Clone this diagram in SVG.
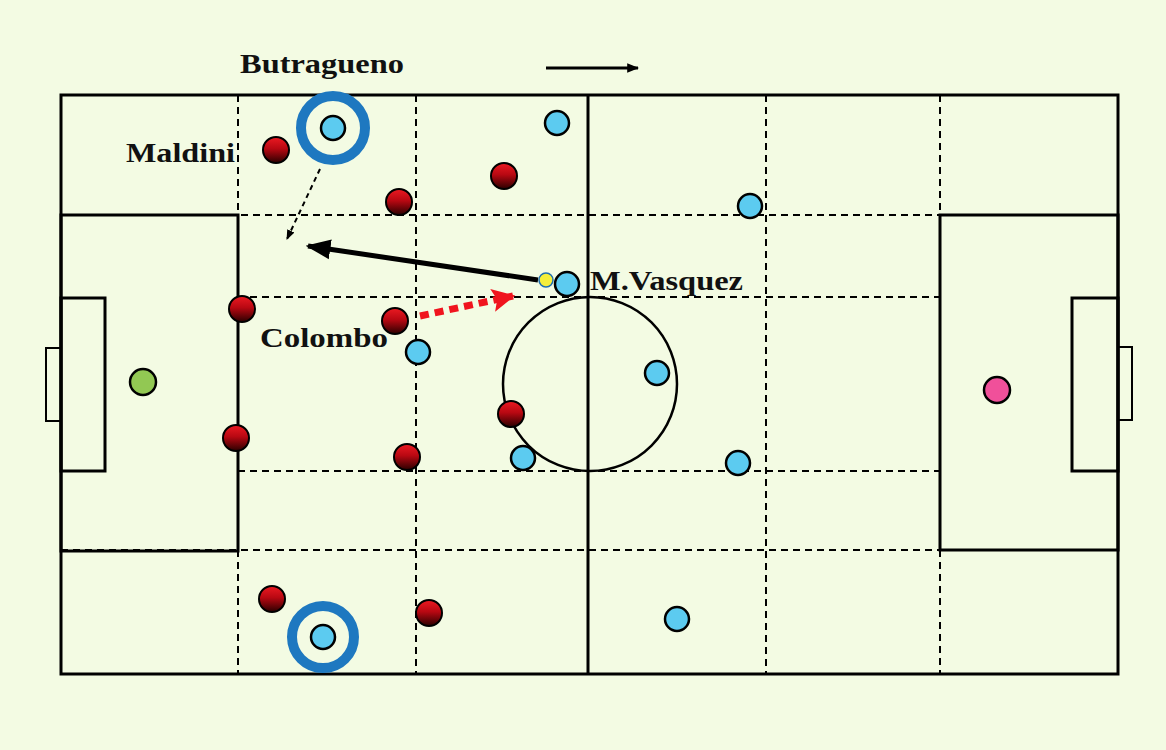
<svg xmlns="http://www.w3.org/2000/svg" width="1166" height="750" viewBox="0 0 1166 750">
<defs>
<linearGradient id="redg" x1="0" y1="0" x2="0" y2="1">
<stop offset="0" stop-color="#ec1a22"/>
<stop offset="0.45" stop-color="#b80812"/>
<stop offset="1" stop-color="#2a0000"/>
</linearGradient>
<marker id="ahs" viewBox="0 0 10 10" refX="9" refY="5" markerWidth="4" markerHeight="4" orient="auto" markerUnits="strokeWidth"><path d="M0,1 L10,5 L0,9 z" fill="#000"/></marker>
<marker id="ahd" viewBox="0 0 10 10" refX="9" refY="5" markerWidth="5" markerHeight="5" orient="auto" markerUnits="strokeWidth"><path d="M0,1 L10,5 L0,9 z" fill="#000"/></marker>
<marker id="ahb" viewBox="0 0 10 10" refX="9" refY="5" markerWidth="5" markerHeight="5" orient="auto" markerUnits="strokeWidth"><path d="M0,1 L10,5 L0,9 z" fill="#000"/></marker>
<marker id="ahr" viewBox="0 0 10 10" refX="9" refY="5" markerWidth="3.3" markerHeight="3.3" orient="auto" markerUnits="strokeWidth"><path d="M0,0 L10,5 L0,10 L2,5 z" fill="#f0141e"/></marker>
</defs>
<style>
.line{fill:none;stroke:#000;stroke-width:3}
.thin{fill:none;stroke:#000;stroke-width:2}
.grid{fill:none;stroke:#000;stroke-width:2;stroke-dasharray:7 5}
.blue{fill:#5ccbf0;stroke:#000;stroke-width:2.5}
.red{fill:url(#redg);stroke:#000;stroke-width:2}
.ring{fill:none;stroke:#1e78c0;stroke-width:10}
.lbl{font-family:"Liberation Serif","DejaVu Serif",serif;font-weight:bold;font-size:27px;fill:#111}
</style>
<rect x="0" y="0" width="1166" height="750" fill="#f3fbe3"/>
<g id="pitch">
<line class="grid" x1="61" y1="215" x2="1118" y2="215"/>
<line class="grid" x1="61" y1="550" x2="1118" y2="550"/>
<line class="grid" x1="238" y1="297" x2="940" y2="297"/>
<line class="grid" x1="238" y1="471" x2="940" y2="471"/>
<line class="grid" x1="238" y1="95" x2="238" y2="215"/>
<line class="grid" x1="238" y1="550" x2="238" y2="674"/>
<line class="grid" x1="940" y1="95" x2="940" y2="215"/>
<line class="grid" x1="940" y1="550" x2="940" y2="674"/>
<line class="grid" x1="416" y1="95" x2="416" y2="674"/>
<line class="grid" x1="766" y1="95" x2="766" y2="674"/>
<rect class="line" x="61" y="95" width="1057" height="579"/>
<line class="line" x1="588" y1="95" x2="588" y2="674"/>
<circle class="line" cx="590" cy="384" r="87" style="stroke-width:2.5"/>
<rect class="line" x="61" y="215" width="177" height="336"/>
<rect class="line" x="940" y="215" width="178" height="335"/>
<rect class="line" x="61" y="298" width="44" height="173"/>
<rect class="line" x="1072" y="298" width="46" height="173"/>
<rect class="thin" x="46" y="348" width="15" height="73"/>
<rect class="thin" x="1118" y="347" width="14" height="73"/>
</g>
<g id="connectors">
<line x1="546" y1="68" x2="638" y2="68" stroke="#000" stroke-width="3" marker-end="url(#ahs)"/>
<line x1="320" y1="169" x2="287" y2="239" stroke="#000" stroke-width="2" stroke-dasharray="5 4" marker-end="url(#ahd)"/>
<line x1="538" y1="280" x2="308" y2="246" stroke="#000" stroke-width="5" marker-end="url(#ahb)"/>
<line x1="420" y1="316" x2="513" y2="296" stroke="#f0141e" stroke-width="7" stroke-dasharray="9 6" marker-end="url(#ahr)"/>
</g>
<g id="butragueno">
<circle class="ring" cx="333" cy="128" r="32"/>
<circle class="blue" cx="333" cy="128" r="12"/>
<text class="lbl" x="240" y="73" textLength="164" lengthAdjust="spacingAndGlyphs">Butragueno</text>
</g>
<g id="blue-bottom-ring">
<circle class="ring" cx="323" cy="637" r="31"/>
<circle class="blue" cx="323" cy="637" r="12"/>
</g>
<g id="mvasquez">
<circle cx="546" cy="280" r="7" fill="#f5ef3a" stroke="#1e6fb0" stroke-width="1.5"/>
<circle class="blue" cx="567" cy="284" r="12"/>
<text class="lbl" x="590" y="290" textLength="153" lengthAdjust="spacingAndGlyphs">M.Vasquez</text>
</g>
<g id="blue-players">
<circle class="blue" cx="557" cy="123" r="12"/>
<circle class="blue" cx="750" cy="206" r="12"/>
<circle class="blue" cx="418" cy="352" r="12"/>
<circle class="blue" cx="657" cy="373" r="12"/>
<circle class="blue" cx="523" cy="458" r="12"/>
<circle class="blue" cx="738" cy="463" r="12"/>
<circle class="blue" cx="677" cy="619" r="12"/>
</g>
<g id="maldini">
<circle class="red" cx="276" cy="150" r="13"/>
<text class="lbl" x="126" y="162" textLength="109" lengthAdjust="spacingAndGlyphs">Maldini</text>
</g>
<g id="colombo">
<circle class="red" cx="395" cy="321" r="13"/>
<text class="lbl" x="260" y="347" textLength="128" lengthAdjust="spacingAndGlyphs">Colombo</text>
</g>
<g id="red-players">
<circle class="red" cx="399" cy="202" r="13"/>
<circle class="red" cx="504" cy="176" r="13"/>
<circle class="red" cx="242" cy="309" r="13"/>
<circle class="red" cx="511" cy="414" r="13"/>
<circle class="red" cx="236" cy="438" r="13"/>
<circle class="red" cx="407" cy="457" r="13"/>
<circle class="red" cx="272" cy="599" r="13"/>
<circle class="red" cx="429" cy="613" r="13"/>
</g>
<g id="goalkeepers">
<circle cx="143" cy="382" r="13" fill="#92c853" stroke="#000" stroke-width="2.5"/>
<circle cx="997" cy="390" r="13" fill="#f0509a" stroke="#000" stroke-width="2.5"/>
</g>
</svg>
